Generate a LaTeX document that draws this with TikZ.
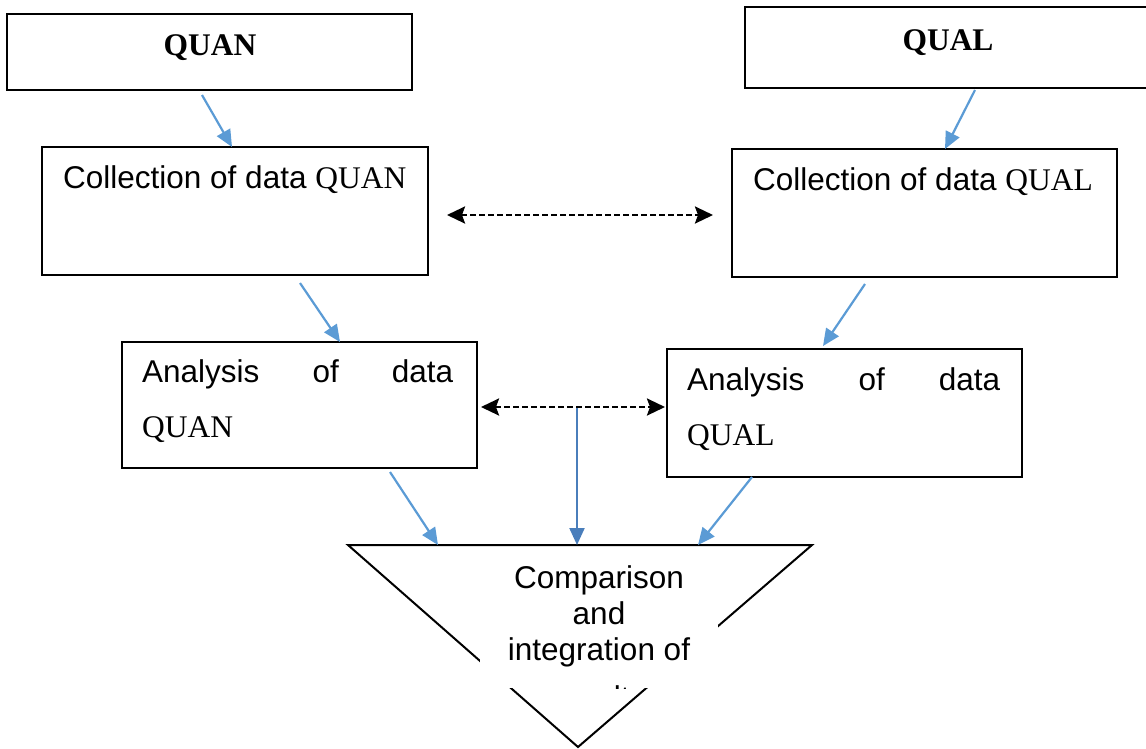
\documentclass[tikz,border=0pt]{standalone}
\usepackage{fontspec}
\setmainfont{Liberation Serif}
\newfontfamily\arialf{Liberation Sans}
\usetikzlibrary{arrows.meta,calc}
\definecolor{arrblue}{RGB}{91,155,213}
\definecolor{midblue}{RGB}{74,126,187}
\begin{document}
\begin{tikzpicture}[x=1pt,y=-1pt,
  box/.style={draw=black,line width=1.6pt,inner sep=0pt,outer sep=0pt},
  bluearr/.style={draw=arrblue,line width=2.2pt,-{Triangle[length=17pt,width=15pt]}},
  dasharr/.style={draw=black,line width=2.6pt,dash pattern=on 6pt off 3pt,
    {Stealth[length=18pt,width=17pt,inset=3pt]}-{Stealth[length=18pt,width=17pt,inset=3pt]}},
  txt/.style={inner sep=0pt,font=\arialf\fontsize{31.5}{36}\selectfont},
  twoline/.style={inner sep=0pt,font=\arialf\fontsize{31.5}{55}\selectfont},
  headtxt/.style={inner sep=0pt,anchor=base,font=\rmfamily\bfseries\fontsize{31.5}{36}\selectfont}]
\useasboundingbox (0,0) rectangle (1146,748);

% boxes
\node[box, minimum width=405pt, minimum height=76pt] (quan) at (209.5,52) {};
\node[box, minimum width=407pt, minimum height=81pt] (qual) at (948.5,47.5) {};
\node[box, minimum width=386pt, minimum height=128pt] (colquan) at (235,211) {};
\node[box, minimum width=385pt, minimum height=128pt] (colqual) at (924.5,213) {};
\node[box, minimum width=355pt, minimum height=126pt] (anaquan) at (299.5,405) {};
\node[box, minimum width=355pt, minimum height=128pt] (anaqual) at (844.5,413) {};

% texts
\node[headtxt] (quant) at (210,55) {QUAN};
\node[headtxt] (qualt) at (948,50) {QUAL};
\node[txt, anchor=base west] (colquant) at (63,188) {Collection of data {\rmfamily QUAN}};
\node[txt, anchor=base west] (colqualt) at (753,190) {Collection of data {\rmfamily QUAL}};
\node[twoline, anchor=base west] (anaquant) at (142,382)
  {\begin{tabular}[t]{@{}l@{}}\hbox to 311pt{Analysis\hfill of\hfill data}\\ \rmfamily QUAN\end{tabular}};
\node[twoline, anchor=base west] (anaqualt) at (687,390)
  {\begin{tabular}[t]{@{}l@{}}\hbox to 313pt{Analysis\hfill of\hfill data}\\ \rmfamily QUAL\end{tabular}};

% triangle
\coordinate (tl) at (348,545);
\coordinate (tr) at (812,545);
\coordinate (tb) at (578,747);
\draw[line width=2pt] (tl) -- (tr) -- (tb) -- cycle;
\fill[white] (480,556) rectangle (718,688);
\begin{scope}
  \clip (480,556) rectangle (718,688);
  \node[txt, anchor=base] (cmpt) at (599,588)
    {\begin{tabular}[t]{@{}c@{}}Comparison\\and\\integration of\\[12pt]results\end{tabular}};
\end{scope}

% connectors
\coordinate (inl) at (438,545);
\coordinate (inm) at (577,545);
\coordinate (inr) at (698,545);
\coordinate (mid) at (577,408);
\draw[bluearr] ([xshift=-7.5pt,yshift=-5pt]quan.south) -- ([xshift=-3pt]colquan.north);
\draw[bluearr] ([xshift=26.5pt,yshift=-2pt]qual.south) -- ([xshift=20.5pt]colqual.north);
\draw[bluearr] ([xshift=65pt,yshift=-8pt]colquan.south) -- ([xshift=40.5pt]anaquan.north);
\draw[bluearr] ([xshift=-59.5pt,yshift=-7pt]colqual.south) -- ([xshift=-21.5pt,yshift=3pt]anaqual.north);
\draw[bluearr] ([xshift=90.5pt,yshift=-4pt]anaquan.south) -- (inl);
\draw[bluearr] ([xshift=-92.5pt]anaqual.south) -- (inr);
\draw[bluearr, draw=midblue] (mid) -- (inm);
\draw[dasharr] ([xshift=19pt,yshift=-4pt]colquan.east) -- ([xshift=-19pt,yshift=-2pt]colqual.west);
\draw[dasharr] ([xshift=4pt,yshift=-2pt]anaquan.east) -- ([xshift=-2pt,yshift=6pt]anaqual.west);
\end{tikzpicture}
\end{document}
